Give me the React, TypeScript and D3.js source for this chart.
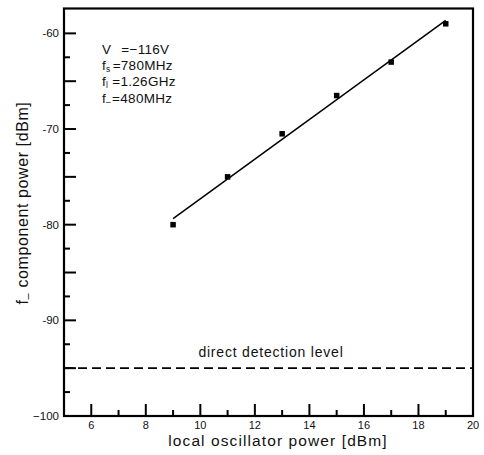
import React from "react";
import * as d3 from "d3";

const loPower = [9, 11, 13, 15, 17, 19];
const componentPower = [-80, -75, -70.5, -66.5, -63, -59];
const fitRange = [9, 19];
const xMajorTicks = [6, 8, 10, 12, 14, 16, 18, 20];
const xMinorTicks = [7, 9, 11, 13, 15, 17, 19];
const yLabelTicks = [-60, -70, -80, -90, -100];
const yTicks = [-60, -62.5, -65, -67.5, -70, -72.5, -75, -77.5, -80, -82.5, -85, -87.5, -90, -92.5, -95, -97.5];
const directLevel = -95;

const W = 484;
const H = 455;
const L = 64, R = 473, T = 8.5, B = 416;

export default function App() {
  const x = d3.scaleLinear().domain([5, 20]).range([L, R]);
  const y = d3.scaleLinear().domain([-100, -57.4]).range([B, T]);

  // least-squares fit of the data
  const mx = d3.mean(loPower)!;
  const my = d3.mean(componentPower)!;
  let sxy = 0, sxx = 0;
  loPower.forEach((v, i) => {
    sxy += (v - mx) * (componentPower[i] - my);
    sxx += (v - mx) * (v - mx);
  });
  const slope = sxy / sxx;
  const fit = (v: number) => my + slope * (v - mx);
  const line = d3.line<number>().x((d) => x(d)).y((d) => y(fit(d)));

  const font = "'Liberation Sans', Arial, sans-serif";
  const ms = 5.5;

  return (
    <div style={{ position: "absolute", left: 0, top: 0 }}>
      <svg width={W} height={H} style={{ display: "block", background: "#fff" }} fontFamily={font}>
        {/* frame */}
        <rect x={L} y={T} width={R - L} height={B - T} fill="none" stroke="#000" strokeWidth={2.2} />
        {/* y ticks */}
        {yTicks.map((t) => {
          const major = t % 5 === 0;
          return (
            <line key={"yt" + t} x1={L} x2={L + (major ? 12 : 6)} y1={y(t)} y2={y(t)} stroke="#000" strokeWidth={2} />
          );
        })}
        {yLabelTicks.map((t) => (
          <text key={"yl" + t} x={L - 5} y={y(t)} dy="0.35em" textAnchor="end" fontSize={11.5} fill="#111">
            {t === -100 ? "\u2212100" : String(t)}
          </text>
        ))}
        {/* x ticks */}
        {xMajorTicks.map((t) => (
          <line key={"xM" + t} x1={x(t)} x2={x(t)} y1={B} y2={B - 12} stroke="#000" strokeWidth={2} />
        ))}
        {xMinorTicks.map((t) => (
          <line key={"xm" + t} x1={x(t)} x2={x(t)} y1={B} y2={B - 6} stroke="#000" strokeWidth={2} />
        ))}
        {xMajorTicks.map((t) => (
          <text key={"xl" + t} x={x(t)} y={B + 13} textAnchor="middle" fontSize={11} fill="#111">
            {t}
          </text>
        ))}
        {/* axis titles */}
        <text x={278} y={446} textAnchor="middle" fontSize={15.5} letterSpacing={1.1} fill="#111">
          local oscillator power [dBm]
        </text>
        <text transform={`translate(28,${203}) rotate(-90)`} textAnchor="middle" fontSize={16} letterSpacing={0.6} fill="#111">
          f<tspan fontSize={11} dy={3}>–</tspan>
          <tspan dy={-3}> component power [dBm]</tspan>
        </text>
        {/* direct detection level */}
        <line x1={L} x2={R} y1={y(directLevel)} y2={y(directLevel)} stroke="#000" strokeWidth={1.8} strokeDasharray="9,5" />
        <text x={271} y={y(directLevel) - 11} textAnchor="middle" fontSize={14} letterSpacing={0.8} fill="#111">
          direct detection level
        </text>
        {/* fit line */}
        <path d={line(fitRange) || ""} fill="none" stroke="#000" strokeWidth={1.5} />
        {/* markers */}
        {loPower.map((v, i) => (
          <rect key={"p" + i} x={x(v) - ms / 2} y={y(componentPower[i]) - ms / 2} width={ms} height={ms} fill="#000" />
        ))}
        {/* parameters */}
        <g fontSize={13.5} letterSpacing={0.3} fill="#111">
          <text x={102} y={54}>V<tspan dx={10}>=−116V</tspan></text>
          <text x={102} y={70}>f<tspan fontSize={8.5} dy={2}>s</tspan><tspan dy={-2} dx={2}>=780MHz</tspan></text>
          <text x={102} y={86}>f<tspan fontSize={8.5} dy={2}>l</tspan><tspan dy={-2} dx={4}>=1.26GHz</tspan></text>
          <text x={102} y={103}>f<tspan fontSize={8.5} dy={2}>–</tspan><tspan dy={-2} dx={1}>=480MHz</tspan></text>
        </g>
      </svg>
    </div>
  );
}
